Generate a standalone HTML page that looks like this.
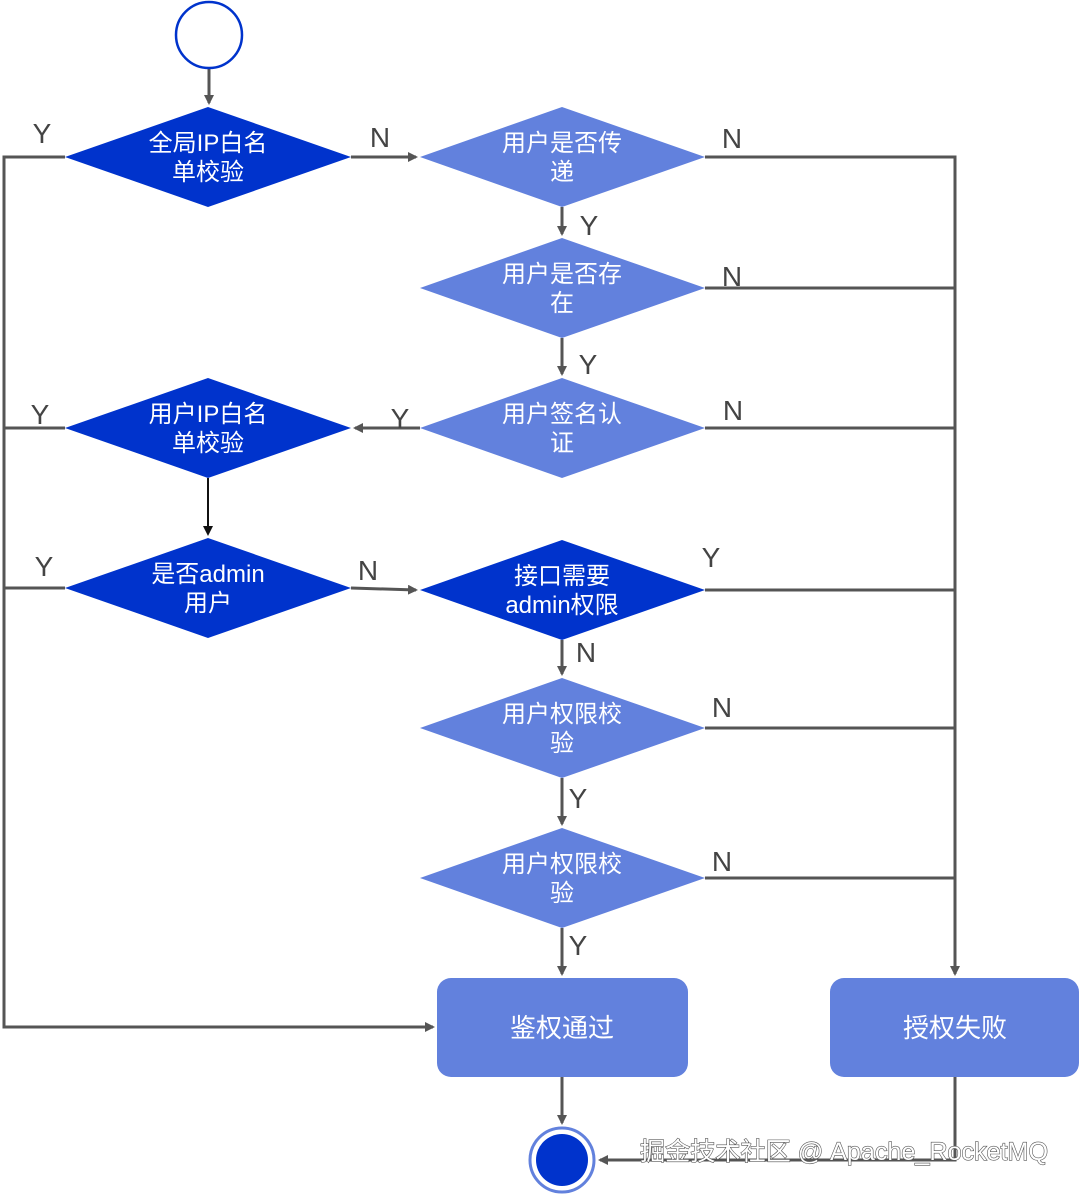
<!DOCTYPE html>
<html><head><meta charset="utf-8"><style>
html,body{margin:0;padding:0;background:#fff;}
svg{display:block;}
.t{font-family:"Liberation Sans","Noto Sans CJK SC",sans-serif;fill:#fff;font-size:24px;text-anchor:middle;}
.l{font-family:"Liberation Sans",sans-serif;fill:#444;font-size:28px;text-anchor:middle;}
</style></head><body>
<svg width="1080" height="1196" viewBox="0 0 1080 1196">
<defs>
<marker id="a" markerWidth="10" markerHeight="10" refX="8" refY="5" orient="auto" markerUnits="userSpaceOnUse"><path d="M0,0 L10,5 L0,10z" fill="#555"/></marker>
<marker id="b" markerWidth="10" markerHeight="10" refX="8" refY="5" orient="auto" markerUnits="userSpaceOnUse"><path d="M0,0 L10,5 L0,10z" fill="#111"/></marker>
</defs>
<g stroke="#555" stroke-width="3" fill="none">
<path d="M209,68 V103" marker-end="url(#a)"/>
<path d="M65,157 H4 V1027 H433" marker-end="url(#a)"/>
<path d="M65,428 H4 M65,588 H4"/>
<path d="M351,157 H416" marker-end="url(#a)"/>
<path d="M705,157 H955 V974" marker-end="url(#a)"/>
<path d="M705,288 H955 M705,428 H955 M705,590 H955 M705,728 H955 M705,878 H955"/>
<path d="M562,207 V234" marker-end="url(#a)"/>
<path d="M562,338 V374" marker-end="url(#a)"/>
<path d="M420,428 H355" marker-end="url(#a)"/>
<path d="M351,588 L416,590" marker-end="url(#a)"/>
<path d="M562,640 V674" marker-end="url(#a)"/>
<path d="M562,778 V824" marker-end="url(#a)"/>
<path d="M562,928 V974" marker-end="url(#a)"/>
<path d="M562,1077 V1123" marker-end="url(#a)"/>
<path d="M955,1077 V1160 H600" marker-end="url(#a)"/>
</g>
<path d="M208,478 V534" stroke="#111" stroke-width="2" marker-end="url(#b)"/>
<ellipse cx="209" cy="35" rx="33" ry="33" fill="#fff" stroke="#0033cc" stroke-width="2.5"/>
<g fill="#0033cc">
<path d="M65,157 L208,107 L351,157 L208,207z"/>
<path d="M65,428 L208,378 L351,428 L208,478z"/>
<path d="M65,588 L208,538 L351,588 L208,638z"/>
<path d="M420,590 L562,540 L705,590 L562,640z"/>
</g>
<g fill="#6281dd">
<path d="M420,157 L562,107 L705,157 L562,207z"/>
<path d="M420,288 L562,238 L705,288 L562,338z"/>
<path d="M420,428 L562,378 L705,428 L562,478z"/>
<path d="M420,728 L562,678 L705,728 L562,778z"/>
<path d="M420,878 L562,828 L705,878 L562,928z"/>
<rect x="437" y="978" width="251" height="99" rx="14"/>
<rect x="830" y="978" width="249" height="99" rx="14"/>
</g>
<circle cx="562" cy="1160" r="32" fill="#fff" stroke="#6281dd" stroke-width="3"/>
<circle cx="562" cy="1160" r="26" fill="#0033cc"/>
<text class="t" x="208" y="151">全局IP白名</text><text class="t" x="208" y="180">单校验</text>
<text class="t" x="208" y="422">用户IP白名</text><text class="t" x="208" y="451">单校验</text>
<text class="t" x="208" y="582">是否admin</text><text class="t" x="208" y="611">用户</text>
<text class="t" x="562" y="584">接口需要</text><text class="t" x="562" y="613">admin权限</text>
<text class="t" x="562" y="151">用户是否传</text><text class="t" x="562" y="180">递</text>
<text class="t" x="562" y="282">用户是否存</text><text class="t" x="562" y="311">在</text>
<text class="t" x="562" y="422">用户签名认</text><text class="t" x="562" y="451">证</text>
<text class="t" x="562" y="722">用户权限校</text><text class="t" x="562" y="751">验</text>
<text class="t" x="562" y="872">用户权限校</text><text class="t" x="562" y="901">验</text>
<text class="t" x="562" y="1037" style="font-size:26px">鉴权通过</text>
<text class="t" x="955" y="1037" style="font-size:26px">授权失败</text>
<text class="l" x="42" y="143">Y</text><text class="l" x="380" y="147">N</text><text class="l" x="732" y="148">N</text>
<text class="l" x="589" y="235">Y</text><text class="l" x="732" y="286">N</text><text class="l" x="588" y="374">Y</text>
<text class="l" x="40" y="424">Y</text><text class="l" x="400" y="428">Y</text><text class="l" x="733" y="420">N</text>
<text class="l" x="44" y="576">Y</text><text class="l" x="368" y="580">N</text><text class="l" x="711" y="567">Y</text>
<text class="l" x="586" y="662">N</text><text class="l" x="722" y="717">N</text><text class="l" x="578" y="808">Y</text>
<text class="l" x="722" y="871">N</text><text class="l" x="578" y="955">Y</text>
<text x="640" y="1160" textLength="408" lengthAdjust="spacingAndGlyphs" style="font-family:'Liberation Sans','Noto Sans CJK SC',sans-serif;font-size:25px;fill:#fff;stroke:#555;stroke-width:1.2;paint-order:stroke">掘金技术社区 @ Apache_RocketMQ</text>
</svg>
</body></html>
